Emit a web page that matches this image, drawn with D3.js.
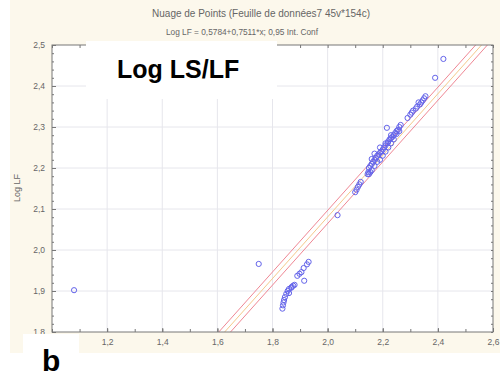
<!DOCTYPE html>
<html>
<head>
<meta charset="utf-8">
<script src="https://cdn.jsdelivr.net/npm/d3@7"></script>
<style>
  html, body { margin: 0; padding: 0; background: #ffffff; }
  svg { display: block; }
  text { font-family: "Liberation Sans", Arial, sans-serif; }
</style>
</head>
<body>
<svg id="chart" width="500" height="379"></svg>
<script>
// Log LS (x) and Log LF (y) for each case
const logLS = [
  1.08, 1.75, 2.036,
  1.836, 1.838, 1.840, 1.842, 1.845, 1.850, 1.855, 1.860, 1.860, 1.868, 1.870, 1.875, 1.880,
  1.890, 1.898, 1.905, 1.913, 1.915, 1.925, 1.931,
  2.100, 2.105, 2.110, 2.115, 2.120,
  2.145, 2.148, 2.150, 2.150, 2.155, 2.155, 2.160, 2.160, 2.160, 2.165, 2.170, 2.170, 2.170,
  2.175, 2.180, 2.180, 2.185, 2.190, 2.190, 2.190, 2.195, 2.200, 2.200, 2.205, 2.210, 2.210,
  2.210, 2.215, 2.218, 2.220, 2.220, 2.225, 2.230, 2.230, 2.230, 2.235, 2.240, 2.240, 2.245,
  2.250, 2.250, 2.255, 2.260, 2.260, 2.265, 2.290,
  2.300, 2.305, 2.310, 2.320, 2.325, 2.330, 2.335, 2.340, 2.345, 2.350, 2.355,
  2.390, 2.420
];
const logLF = [
  1.902, 1.966, 2.085,
  1.857, 1.865, 1.872, 1.878, 1.885, 1.893, 1.900, 1.905, 1.895, 1.908, 1.910, 1.913, 1.915,
  1.937, 1.942, 1.946, 1.956, 1.925, 1.965, 1.971,
  2.141, 2.147, 2.154, 2.160, 2.166,
  2.185, 2.190, 2.200, 2.185, 2.205, 2.190, 2.210, 2.195, 2.222, 2.215, 2.220, 2.205, 2.235,
  2.225, 2.230, 2.215, 2.233, 2.237, 2.220, 2.250, 2.240, 2.245, 2.230, 2.250, 2.255, 2.240,
  2.260, 2.298, 2.261, 2.265, 2.250, 2.270, 2.273, 2.260, 2.280, 2.276, 2.280, 2.270, 2.285,
  2.290, 2.283, 2.293, 2.300, 2.290, 2.305, 2.322,
  2.330, 2.335, 2.340, 2.345, 2.350, 2.360, 2.355, 2.360, 2.365, 2.370, 2.375,
  2.420, 2.466
];

// Fitted line and its 0,95 confidence band
const intercept = 0.5784;
const slope = 0.7511;
const bandHalfWidth = 0.016;

const xTicks = [1.2, 1.4, 1.6, 1.8, 2.0, 2.2, 2.4, 2.6];
const yTicks = [1.8, 1.9, 2.0, 2.1, 2.2, 2.3, 2.4, 2.5];

const titleText = "Nuage de Points (Feuille de données7 45v*154c)";
const subtitleText = "Log LF = 0,5784+0,7511*x; 0,95 Int. Conf";
const yLabel = "Log LF";
const panelTitle = "Log LS/LF";
const panelLetter = "b";

const svg = d3.select("#chart");
const W = 500, H = 379;
const plot = { left: 52, right: 493, top: 45, bottom: 332 };

const x = d3.scaleLinear().domain([1.0, 2.6]).range([plot.left, plot.right]);
const y = d3.scaleLinear().domain([1.8, 2.5]).range([plot.bottom, plot.top]);
const fmt = v => d3.format(".1f")(v).replace(".", ",");

// page background
svg.append("rect").attr("x", 0).attr("y", 0).attr("width", W).attr("height", H).attr("fill", "#ffffff");
svg.append("rect").attr("x", 10).attr("y", 0).attr("width", W - 10).attr("height", 353).attr("fill", "#fcf8ec");

// titles
svg.append("text").attr("x", 261).attr("y", 17).attr("text-anchor", "middle")
  .attr("font-size", 10).attr("fill", "#666").text(titleText);
svg.append("text").attr("x", 242).attr("y", 35).attr("text-anchor", "middle")
  .attr("font-size", 8.3).attr("fill", "#666").text(subtitleText);

// plot area
svg.append("rect").attr("x", plot.left).attr("y", plot.top)
  .attr("width", plot.right - plot.left).attr("height", plot.bottom - plot.top)
  .attr("fill", "#ffffff");

const clip = svg.append("defs").append("clipPath").attr("id", "plotClip");
clip.append("rect").attr("x", plot.left).attr("y", plot.top)
  .attr("width", plot.right - plot.left).attr("height", plot.bottom - plot.top);

// grid
const grid = svg.append("g").attr("stroke", "#e6e6ec").attr("stroke-width", 1);
grid.selectAll("line.gx").data(xTicks.filter(t => t < 2.6)).join("line")
  .attr("x1", d => x(d)).attr("x2", d => x(d)).attr("y1", plot.top).attr("y2", plot.bottom);
grid.selectAll("line.gy").data(yTicks.filter(t => t > 1.8 && t < 2.5)).join("line")
  .attr("x1", plot.left).attr("x2", plot.right).attr("y1", d => y(d)).attr("y2", d => y(d));

// regression line and band
const g = svg.append("g").attr("clip-path", "url(#plotClip)");
const xs = [1.0, 2.6];
const lineGen = off => d3.line().x(d => x(d)).y(d => y(intercept + slope * d + off))(xs);
g.append("path").attr("d", lineGen(-bandHalfWidth)).attr("fill", "none")
  .attr("stroke", "#ef8794").attr("stroke-width", 1);
g.append("path").attr("d", lineGen(bandHalfWidth)).attr("fill", "none")
  .attr("stroke", "#ef8794").attr("stroke-width", 1);
g.append("path").attr("d", lineGen(0)).attr("fill", "none")
  .attr("stroke", "#f5c98c").attr("stroke-width", 1);

// points
const pts = logLS.map((v, i) => ({ x: v, y: logLF[i] }));
g.selectAll("circle").data(pts).join("circle")
  .attr("cx", d => x(d.x)).attr("cy", d => y(d.y)).attr("r", 2.6)
  .attr("fill", "none").attr("stroke", "#6464ea").attr("stroke-width", 1);

// frame
svg.append("rect").attr("x", plot.left).attr("y", plot.top)
  .attr("width", plot.right - plot.left).attr("height", plot.bottom - plot.top)
  .attr("fill", "none").attr("stroke", "#777").attr("stroke-width", 1);

// axes with inward ticks
const xMinor = d3.range(1.0, 2.6001, 0.1);
const yMinor = d3.range(1.8, 2.5001, 0.02);
const axisCol = "#777";

const bottomAxis = d3.axisBottom(x).tickValues(xMinor).tickSize(-3).tickFormat("");
svg.append("g").attr("transform", `translate(0,${plot.bottom})`).call(bottomAxis)
  .call(a => a.select(".domain").remove()).selectAll("line").attr("stroke", axisCol);
const topAxis = d3.axisTop(x).tickValues(xMinor).tickSize(-3).tickFormat("");
svg.append("g").attr("transform", `translate(0,${plot.top})`).call(topAxis)
  .call(a => a.select(".domain").remove()).selectAll("line").attr("stroke", axisCol);
const leftAxis = d3.axisLeft(y).tickValues(yMinor).tickSize(-2).tickFormat("");
svg.append("g").attr("transform", `translate(${plot.left},0)`).call(leftAxis)
  .call(a => a.select(".domain").remove()).selectAll("line").attr("stroke", axisCol);
const rightAxis = d3.axisRight(y).tickValues(yMinor).tickSize(-2).tickFormat("");
svg.append("g").attr("transform", `translate(${plot.right},0)`).call(rightAxis)
  .call(a => a.select(".domain").remove()).selectAll("line").attr("stroke", axisCol);

// major tick labels
const xLab = d3.axisBottom(x).tickValues(xTicks).tickSize(-4).tickPadding(7).tickFormat(fmt);
svg.append("g").attr("transform", `translate(0,${plot.bottom})`).call(xLab)
  .call(a => a.select(".domain").remove())
  .call(a => a.selectAll("line").attr("stroke", axisCol))
  .call(a => a.selectAll("text").attr("font-size", 8.5).attr("fill", "#666")
    .attr("font-family", "Liberation Sans, Arial, sans-serif"));
const yLab = d3.axisLeft(y).tickValues(yTicks).tickSize(-4).tickPadding(7).tickFormat(fmt);
svg.append("g").attr("transform", `translate(${plot.left},0)`).call(yLab)
  .call(a => a.select(".domain").remove())
  .call(a => a.selectAll("line").attr("stroke", axisCol))
  .call(a => a.selectAll("text").attr("font-size", 8.5).attr("fill", "#666")
    .attr("font-family", "Liberation Sans, Arial, sans-serif"));

// y axis title
svg.append("text").attr("transform", "translate(20,188) rotate(-90)")
  .attr("text-anchor", "middle").attr("font-size", 9).attr("fill", "#666").text(yLabel);

// panel title on a white card
svg.append("rect").attr("x", 86).attr("y", 41).attr("width", 191).attr("height", 58).attr("fill", "#ffffff");
svg.append("text").attr("x", 117).attr("y", 78).attr("font-size", 25).attr("font-weight", "bold")
  .attr("fill", "#000").text(panelTitle);

// panel letter
svg.append("rect").attr("x", 23).attr("y", 334).attr("width", 56).attr("height", 19).attr("fill", "#ffffff");
svg.append("text").attr("x", 42).attr("y", 371).attr("font-size", 30).attr("font-weight", "bold")
  .attr("fill", "#000").text(panelLetter);
</script>
</body>
</html>
